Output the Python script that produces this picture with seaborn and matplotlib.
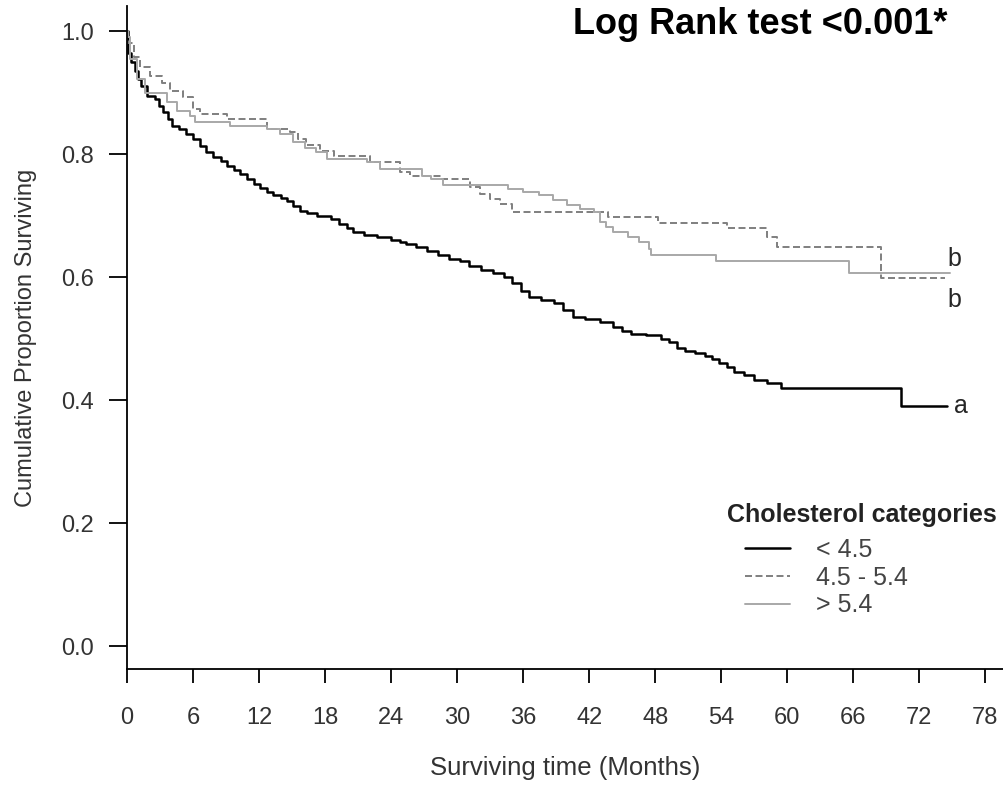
import matplotlib
matplotlib.use("Agg")
import matplotlib.pyplot as plt
import seaborn as sns
import pandas as pd

# Kaplan-Meier style survival by cholesterol category
low_months = [0, 0.1, 0.4, 0.7, 1.0, 1.3, 1.8, 2.5, 2.9, 3.3, 3.7, 4.1, 4.7, 5.4, 6.0,
              6.6, 7.2, 7.8, 8.5, 9.1, 9.7, 10.3, 10.9, 11.5, 12.1, 12.7, 13.3, 14.0,
              14.5, 15.1, 15.7, 16.4, 17.3, 18.5, 19.3, 20.0, 20.5, 21.5, 22.7, 24.0,
              24.8, 25.4, 26.3, 27.3, 28.3, 29.3, 30.3, 31.1, 32.2, 33.3, 34.3, 35.0,
              35.8, 36.5, 37.6, 38.8, 39.6, 40.5, 41.6, 43.0, 44.2, 45.0, 45.8, 47.2,
              48.5, 49.3, 50.0, 50.7, 51.6, 52.5, 53.2, 53.8, 54.5, 55.2, 56.1, 57.0,
              58.2, 59.4, 70.3, 74.5]
low_surv = [1.0, 0.965, 0.950, 0.935, 0.922, 0.910, 0.895, 0.889, 0.878, 0.868, 0.857,
            0.846, 0.840, 0.833, 0.824, 0.813, 0.803, 0.795, 0.788, 0.781, 0.774, 0.767,
            0.760, 0.752, 0.745, 0.738, 0.733, 0.728, 0.724, 0.716, 0.708, 0.704, 0.700,
            0.695, 0.687, 0.680, 0.673, 0.669, 0.665, 0.660, 0.657, 0.654, 0.648, 0.642,
            0.635, 0.630, 0.626, 0.618, 0.611, 0.606, 0.600, 0.590, 0.578, 0.568, 0.562,
            0.557, 0.546, 0.535, 0.531, 0.527, 0.518, 0.512, 0.508, 0.505, 0.500, 0.495,
            0.484, 0.480, 0.476, 0.472, 0.466, 0.460, 0.453, 0.446, 0.440, 0.433, 0.428,
            0.419, 0.391, 0.391]

mid_months = [0, 0.1, 0.6, 1.2, 2.1, 3.2, 3.9, 5.1, 6.0, 6.6, 9.1, 12.7, 14.8, 15.5,
              16.3, 17.5, 18.8, 22.1, 24.8, 25.7, 28.5, 31.2, 32.1, 33.0, 33.9, 35.0,
              43.7, 48.3, 54.5, 58.2, 59.1, 68.5, 74.3]
mid_surv = [1.0, 0.980, 0.957, 0.941, 0.927, 0.916, 0.903, 0.892, 0.873, 0.865, 0.857,
            0.841, 0.835, 0.824, 0.814, 0.805, 0.797, 0.787, 0.770, 0.765, 0.760, 0.746,
            0.735, 0.727, 0.719, 0.706, 0.697, 0.688, 0.679, 0.665, 0.649, 0.599, 0.599]

high_months = [0, 0.1, 0.3, 0.9, 1.6, 3.6, 4.5, 5.7, 6.2, 9.4, 12.7, 13.9, 15.1, 16.2,
               17.2, 18.2, 21.8, 23.0, 26.8, 27.6, 28.7, 34.6, 36.0, 37.4, 38.7, 40.0,
               41.2, 42.4, 43.0, 43.5, 44.2, 45.5, 46.5, 47.4, 47.6, 53.5, 65.6, 74.8]
high_surv = [1.0, 0.990, 0.954, 0.922, 0.900, 0.884, 0.870, 0.862, 0.852, 0.846, 0.841,
             0.833, 0.819, 0.810, 0.803, 0.792, 0.787, 0.776, 0.765, 0.760, 0.750, 0.743,
             0.738, 0.733, 0.725, 0.717, 0.711, 0.705, 0.690, 0.681, 0.673, 0.665, 0.657,
             0.646, 0.635, 0.626, 0.606, 0.606]

groups = ["< 4.5", "4.5 - 5.4", "> 5.4"]
end_letters = ["a", "b", "b"]
x_ticks = list(range(0, 79, 6))
y_ticks = [0.0, 0.2, 0.4, 0.6, 0.8, 1.0]

df = pd.concat([
    pd.DataFrame({"month": low_months, "surv": low_surv, "group": groups[0]}),
    pd.DataFrame({"month": mid_months, "surv": mid_surv, "group": groups[1]}),
    pd.DataFrame({"month": high_months, "surv": high_surv, "group": groups[2]}),
], ignore_index=True)

sns.set_theme(style="ticks")
plt.rcParams["font.family"] = ["Liberation Sans", "DejaVu Sans"]

fig = plt.figure(figsize=(10.04, 7.85), dpi=100)
ax = fig.add_axes([127 / 1004, 1 - 669 / 785, 1 - 127 / 1004, (669 - 6) / 785])

styles = {
    groups[0]: dict(color="#000000", linewidth=1.8, linestyle="-"),
    groups[1]: dict(color="#7f7f7f", linewidth=1.4, linestyle=(0, (3.6, 1.8))),
    groups[2]: dict(color="#a8a8a8", linewidth=1.4, linestyle="-"),
}

for g in groups:
    sub = df[df["group"] == g]
    sns.lineplot(data=sub, x="month", y="surv", estimator=None, sort=False,
                 drawstyle="steps-post", ax=ax, label=g, **styles[g])

ax.set_xlim(0, 79.7)
ax.set_ylim(-0.0374, 1.0407)
ax.set_xticks(x_ticks)
ax.set_yticks(y_ticks)
ax.set_yticklabels([f"{v:.1f}" for v in y_ticks])
for side in ["top", "right"]:
    ax.spines[side].set_visible(False)
for side in ["left", "bottom"]:
    ax.spines[side].set_linewidth(1.3)
    ax.spines[side].set_color("black")
ax.tick_params(axis="y", direction="out", length=13, width=1.3, pad=11,
               labelsize=17, labelcolor="#333333", color="black")
ax.tick_params(axis="x", direction="out", length=10, width=1.3, pad=17,
               labelsize=17, labelcolor="#333333", color="black")

ax.set_xlabel("Surviving time (Months)", fontsize=18.5, color="#333333", labelpad=20)
ax.set_ylabel("Cumulative Proportion Surviving", fontsize=17, color="#333333", labelpad=17)

# letters at the end of each curve
ends = {g: df[df["group"] == g].iloc[-1] for g in groups}
ax.annotate(end_letters[0], (ends[groups[0]]["month"], ends[groups[0]]["surv"]),
            xytext=(5, 0), textcoords="offset points", va="center", ha="left", fontsize=18)
ax.annotate(end_letters[2], (ends[groups[2]]["month"], ends[groups[2]]["surv"]),
            xytext=(-2, 10), textcoords="offset points", va="center", ha="left", fontsize=18)
ax.annotate(end_letters[1], (ends[groups[1]]["month"], ends[groups[1]]["surv"]),
            xytext=(2, -16), textcoords="offset points", va="center", ha="left", fontsize=18)

fig.text(573 / 1004, 1 - 24 / 785, "Log Rank test <0.001*", fontsize=26,
         fontweight="bold", ha="left", va="center", color="black")

leg = ax.legend(frameon=False, fontsize=18, handlelength=1.8, handletextpad=1.05,
                labelspacing=0.15, loc="upper left",
                bbox_to_anchor=(745 / 1004, 1 - 538 / 785),
                bbox_transform=fig.transFigure, borderaxespad=0, borderpad=0)
for t in leg.get_texts():
    t.set_color("#444444")
fig.text(997 / 1004, 1 - 515 / 785, "Cholesterol categories", fontsize=18,
         fontweight="bold", ha="right", va="center", color="#222222")

fig.savefig("out.png", dpi=100)
